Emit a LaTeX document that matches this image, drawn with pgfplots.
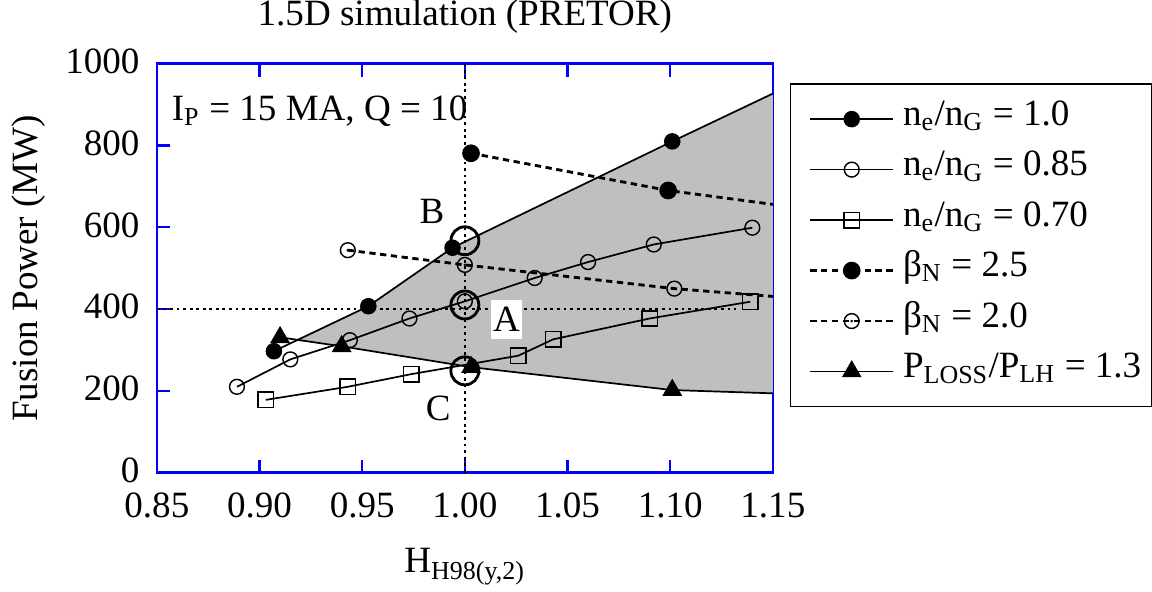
\documentclass[border=0pt]{standalone}
\usepackage{fontspec}
\setmainfont{Liberation Serif}
\usepackage{pgfplots}
\pgfplotsset{compat=1.18}
\newcommand\fs{\fontsize{13}{15.6}\selectfont}
\pgfdeclareplotmark{odot}{%
  \pgfpathcircle{\pgfpointorigin}{\pgfplotmarksize}\pgfusepathqstroke
  \pgfpathcircle{\pgfpointorigin}{0.5pt}\pgfusepathqfill}
\begin{document}
\begin{tikzpicture}[font=\fs]
\begin{axis}[
  scale only axis, width=216pt, height=143.4pt,
  xmin=0.85, xmax=1.15, ymin=0, ymax=1000,
  xtick={0.85,0.90,0.95,1.00,1.05,1.10,1.15},
  ytick={0,200,400,600,800,1000},
  /pgf/number format/assume math mode=true,
  xticklabel style={/pgf/number format/.cd, fixed, fixed zerofill, precision=2, /tikz/.cd, inner sep=0pt, yshift=-7pt},
  yticklabel style={/pgf/number format/1000 sep={}, inner sep=0pt, xshift=-5.9pt, yshift=0.8pt},
  axis line style={blue, line width=0.9pt},
  tick style={blue, line width=0.8pt},
  major tick length=4.5pt, tick align=inside, xtick pos=both, ytick pos=both,
  title={1.5D simulation (PRETOR)},
  title style={at={(axis description cs:0.5,1.051)}, anchor=base, inner sep=0pt},
  xlabel={H\textsubscript{H98(y,2)}},
  xlabel style={at={(axis description cs:0.5,-0.245)}, anchor=base, inner sep=0pt},
  ylabel={Fusion Power (MW)},
  ylabel style={at={(axis description cs:-0.209,0.5)}, anchor=center, inner sep=0pt},
  legend style={at={(1.0273,0.9523)}, anchor=north west, draw=black, line width=0.5pt,
    inner sep=3.5pt, row sep=0pt, column sep=3pt,
    nodes={inner sep=0pt, text height=11pt, text depth=6.7pt}},
  legend cell align=left,
  legend image code/.code={\path (-3pt,0pt);
    \draw[#1, mark=none] (0pt,0pt) -- (29pt,0pt);
    \draw[#1] plot coordinates {(14.5pt,0pt)};},
  every axis plot/.append style={black},
]
% shaded operating region
\addplot[fill=black!25, draw=none, forget plot] coordinates {
  (0.917,323) (0.953,407) (0.994,550) (1.101,810) (1.15,927)
  (1.15,194) (1.101,202) (1.003,258) (0.94,310)} -- cycle;
% guide lines
\addplot[line width=0.5pt, dash pattern=on 1pt off 1.3pt, forget plot] coordinates {(0.85,400) (1.132,400)};
\addplot[line width=0.5pt, dash pattern=on 1pt off 1.3pt, forget plot] coordinates {(1.0,0) (1.0,1000)};
% series
\addplot[line width=0.6pt, mark=*, mark size=2.6pt, mark indices={1,2,3,4}, mark options={fill=black}]
  coordinates {(0.907,297) (0.953,407) (0.994,550) (1.101,810) (1.15,927)};
\addlegendentry{n\textsubscript{e}/n\textsubscript{G} = 1.0}
\addplot[line width=0.6pt, mark=o, mark size=2.6pt, mark options={line width=0.5pt}]
  coordinates {(0.889,210) (0.915,277) (0.944,324) (0.973,377) (1.0,419) (1.034,476) (1.060,515) (1.092,558) (1.140,599)};
\addlegendentry{n\textsubscript{e}/n\textsubscript{G} = 0.85}
\addplot[line width=0.6pt, mark=square, mark size=2.7pt, mark options={line width=0.5pt}]
  coordinates {(0.903,178) (0.943,210) (0.974,241) (1.026,286) (1.043,326) (1.090,377) (1.139,418)};
\addlegendentry{n\textsubscript{e}/n\textsubscript{G} = 0.70}
\addplot[line width=1pt, dash pattern=on 2.2pt off 1.6pt, mark=*, mark size=2.6pt, mark indices={1,2}, mark options={solid, fill=black}]
  coordinates {(1.003,781) (1.099,690) (1.15,656)};
\addlegendentry{β\textsubscript{N} = 2.5}
\addplot[line width=1pt, dash pattern=on 2.2pt off 1.6pt, mark=odot, mark size=2.6pt, mark indices={1,2,3}, mark options={solid, line width=0.5pt}]
  coordinates {(0.943,544) (1.0,508) (1.102,450) (1.15,431)};
\addlegendentry{β\textsubscript{N} = 2.0}
\addplot[line width=0.6pt, mark=triangle*, mark size=3.4pt, mark indices={1,2,3,4}, mark options={fill=black}]
  coordinates {(0.91,331) (0.94,309) (1.003,258) (1.101,202) (1.15,194)};
\addlegendentry{P\textsubscript{LOSS}/P\textsubscript{LH} = 1.3}
% highlighted operating points
\addplot[only marks, mark=o, mark size=4.9pt, mark options={line width=1pt}, forget plot]
  coordinates {(1.0,567) (1.0,410) (1.0,249)};
\node[anchor=base west, inner sep=0pt] at (axis cs:0.857,862) {I\textsubscript{P} = 15 MA, Q = 10};
\node[inner sep=0pt] at (axis cs:0.984,638) {B};
\node[fill=white, inner xsep=0.6pt, inner ysep=2.6pt, text height=8.6pt, text depth=0pt] at (axis cs:1.0203,374) {A};
\node[inner sep=0pt] at (axis cs:0.987,157) {C};
\end{axis}
\path ([xshift=-55pt, yshift=-41.7pt]current axis.south west) rectangle ([xshift=129.2pt, yshift=18.75pt]current axis.north east);
\end{tikzpicture}
\end{document}
